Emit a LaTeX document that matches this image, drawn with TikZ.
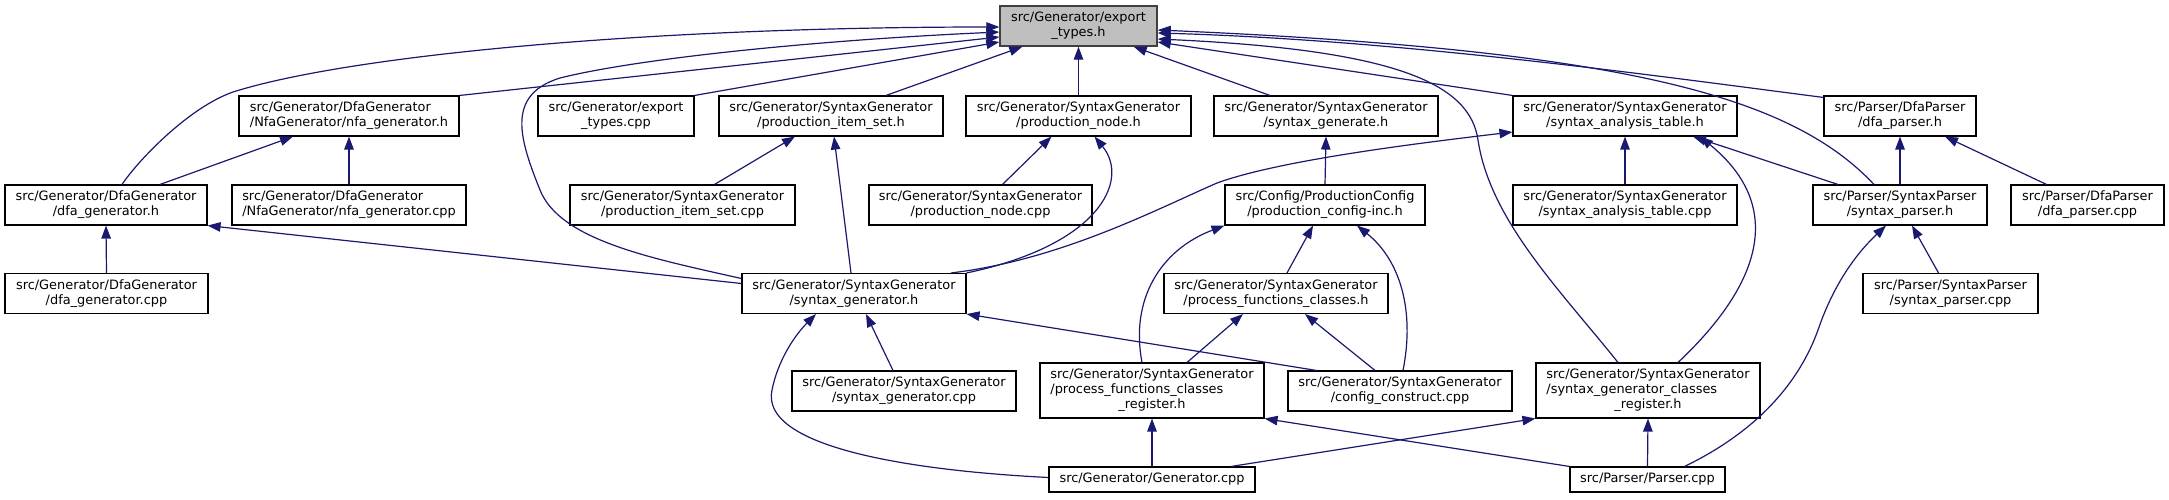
\documentclass[tikz,border=0pt]{standalone}
\usepackage{fontspec}
\setmainfont{DejaVu Sans}
\usepackage{calc}
\usetikzlibrary{arrows.meta,calc}
\definecolor{edgecol}{HTML}{191970}
\definecolor{rootfill}{HTML}{BFBFBF}
\definecolor{rootdraw}{HTML}{404040}
\newcommand{\sgdir}{src/Generator/SyntaxGenerator}
\begin{document}
\begin{tikzpicture}[x=1pt,y=-1pt,
  box/.style={draw=black, line width=1.1pt, fill=white, inner sep=0pt, align=center,
    font=\fontsize{12.9pt}{15pt}\selectfont, minimum height=40pt},
  rootbox/.style={box, fill=rootfill, draw=rootdraw, line width=1.4pt},
  edge/.style={draw=edgecol, line width=1.2pt, -{Triangle[length=13pt,width=9.5pt]}},
]
\useasboundingbox (0,0) rectangle (2169,499);
% row 1
\node[rootbox, minimum width=157pt] (E) at (1078.5,26) {src/Generator/export\\\_types.h};
% row 2
\node[box, minimum width=220pt, align=left] (nfa) at (349,116) {src/Generator/DfaGenerator\\/NfaGenerator/nfa\_generator.h};
\node[box, minimum width=156pt] (etcpp) at (616,116) {src/Generator/export\\\_types.cpp};
\node[box, minimum width=224pt] (pish) at (831,116) {\sgdir\\/production\_item\_set.h};
\node[box, minimum width=225pt] (pnh) at (1078.5,116) {\sgdir\\/production\_node.h};
\node[box, minimum width=224pt] (sgen) at (1326,116) {\sgdir\\/syntax\_generate.h};
\node[box, minimum width=224pt] (sath) at (1625,116) {\sgdir\\/syntax\_analysis\_table.h};
\node[box, minimum width=152pt] (dfaph) at (1900,116) {src/Parser/DfaParser\\/dfa\_parser.h};
% row 3
\node[box, minimum width=202pt] (dfah) at (106,205) {src/Generator/DfaGenerator\\/dfa\_generator.h};
\node[box, minimum width=234pt, align=left] (nfacpp) at (349,205) {src/Generator/DfaGenerator\\/NfaGenerator/nfa\_generator.cpp};
\node[box, minimum width=225pt] (piscpp) at (682.5,205) {\sgdir\\/production\_item\_set.cpp};
\node[box, minimum width=223pt] (pncpp) at (980.5,205) {\sgdir\\/production\_node.cpp};
\node[box, minimum width=200pt] (pci) at (1325,205) {src/Config/ProductionConfig\\/production\_config-inc.h};
\node[box, minimum width=224pt] (satcpp) at (1625,205) {\sgdir\\/syntax\_analysis\_table.cpp};
\node[box, minimum width=174pt] (sph) at (1900,205) {src/Parser/SyntaxParser\\/syntax\_parser.h};
\node[box, minimum width=153pt] (dfapcpp) at (2087.5,205) {src/Parser/DfaParser\\/dfa\_parser.cpp};
% row 4
\node[box, minimum width=203pt] (dfacpp) at (106.5,293.5) {src/Generator/DfaGenerator\\/dfa\_generator.cpp};
\node[box, minimum width=224pt] (sgh) at (854,293.5) {\sgdir\\/syntax\_generator.h};
\node[box, minimum width=224pt] (pfch) at (1276,293.5) {\sgdir\\/process\_functions\_classes.h};
\node[box, minimum width=175pt] (spcpp) at (1950.5,293.5) {src/Parser/SyntaxParser\\/syntax\_parser.cpp};
% row 5
\node[box, minimum width=224pt] (sgcpp) at (904,391) {\sgdir\\/syntax\_generator.cpp};
\node[box, minimum width=224pt, minimum height=55pt] (pfcr) at (1152,390.5) {\sgdir\\\makebox[\widthof{\sgdir}][l]{/process\_functions\_classes}\\\_register.h};
\node[box, minimum width=224pt] (cccpp) at (1400,391) {\sgdir\\/config\_construct.cpp};
\node[box, minimum width=224pt, minimum height=55pt] (sgcr) at (1648,390.5) {\sgdir\\\makebox[\widthof{\sgdir}][l]{/syntax\_generator\_classes}\\\_register.h};
% row 6
\node[box, minimum width=206pt, minimum height=25pt] (gencpp) at (1152,479.5) {src/Generator/Generator.cpp};
\node[box, minimum width=155pt, minimum height=25pt] (parcpp) at (1647.5,479.5) {src/Parser/Parser.cpp};

% edges into export_types.h
\draw[edge] ($(dfah.north)+(16,0)$) .. controls (140,158) and (190,107) .. (233,92)
  .. controls (350,55) and (650,27) .. ($(E.west)+(0,1)$);
\draw[edge] ($(sgh.west)+(0,-15)$) .. controls (650,258) and (560,240) .. (540,190)
  .. controls (520,140) and (505,95) .. (560,78)
  .. controls (640,58) and (820,40) .. ($(E.west)+(0,6)$);
\draw[edge] (nfa.north east) -- ($(E.west)+(0,11)$);
\draw[edge] (etcpp.north east) -- ($(E.west)+(0,16)$);
\draw[edge] ($(pish.north)+(55,0)$) -- ($(E.south west)+(23,0)$);
\draw[edge] (pnh.north) -- (E.south);
\draw[edge] ($(sgen.north)+(-56,0)$) -- ($(E.south east)+(-24,0)$);
\draw[edge] ($(sph.north)+(-26,0)$) .. controls (1790,95) and (1620,50) .. ($(E.east)+(0,4)$);
\draw[edge] ($(dfaph.north west)+(0,2)$) .. controls (1650,75) and (1400,40) .. ($(E.east)+(0,7)$);
\draw[edge] ($(sgcr.north)+(-30,0)$) .. controls (1560,290) and (1490,220) .. (1478,140)
  .. controls (1470,85) and (1400,50) .. ($(E.east)+(0,13)$);
\draw[edge] (sath.north west) -- ($(E.east)+(0,16)$);

% other edges
\draw[edge] ($(dfah.north)+(54,0)$) -- ($(nfa.south)+(-56,0)$);
\draw[edge] (nfacpp.north) -- (nfa.south);
\draw[edge] (dfacpp.north) -- (dfah.south);
\draw[edge] ($(sgh.west)+(0,-10)$) -- (dfah.south east);
\draw[edge] ($(piscpp.north)+(32,0)$) -- ($(pish.south)+(-36,0)$);
\draw[edge] ($(sgh.north)+(-3,0)$) -- ($(pish.south)+(3,0)$);
\draw[edge] ($(pncpp.north)+(22,0)$) -- ($(pnh.south)+(-27,0)$);
\draw[edge] (sgh.north east) .. controls (1100,245) and (1130,180) .. ($(pnh.south)+(16,0)$);
\draw[edge] ($(sgh.north)+(97,0)$) .. controls (1060,260) and (1155,210) .. (1217,183)
  .. controls (1280,160) and (1420,143) .. ($(sath.west)+(0,16)$);
\draw[edge] (pci.north) -- (sgen.south);
\draw[edge] ($(pfcr.north)+(-10,0)$) .. controls (1130,300) and (1160,250) .. (pci.south west);
\draw[edge] ($(pfch.north)+(11,0)$) -- ($(pci.south)+(-12,0)$);
\draw[edge] ($(cccpp.north)+(3,0)$) .. controls (1415,310) and (1400,260) .. ($(pci.south)+(32,0)$);
\draw[edge] ($(pfcr.north)+(35,0)$) -- ($(pfch.south)+(-33,0)$);
\draw[edge] ($(cccpp.north)+(-25,0)$) -- ($(pfch.south)+(29,0)$);
\draw[edge] ($(sgcpp.north)+(-11,0)$) -- ($(sgh.south)+(12,0)$);
\draw[edge] ($(cccpp.north west)+(29,0)$) -- (sgh.south east);
\draw[edge] ($(gencpp.west)+(0,-2)$) .. controls (900,470) and (760,445) .. (772,390)
  .. controls (778,360) and (795,335) .. ($(sgh.south)+(-38,0)$);
\draw[edge] (gencpp.north) -- (pfcr.south);
\draw[edge] ($(gencpp.north)+(79,0)$) -- (sgcr.south west);
\draw[edge] (parcpp.north west) -- (pfcr.south east);
\draw[edge] (parcpp.north) -- (sgcr.south);
\draw[edge] ($(parcpp.north)+(37,0)$) .. controls (1760,430) and (1800,380) .. (1818,330)
  .. controls (1835,280) and (1860,250) .. ($(sph.south)+(-14,0)$);
\draw[edge] ($(spcpp.north)+(-12,0)$) -- ($(sph.south)+(12,0)$);
\draw[edge] (satcpp.north) -- (sath.south);
\draw[edge] ($(sph.north)+(-62,0)$) -- ($(sath.south)+(68,0)$);
\draw[edge] ($(sgcr.north)+(30,0)$) .. controls (1755,290) and (1790,210) .. ($(sath.south)+(75,0)$);
\draw[edge] (sph.north) -- (dfaph.south);
\draw[edge] ($(dfapcpp.north)+(-41,0)$) -- ($(dfaph.south)+(45,0)$);
\end{tikzpicture}
\end{document}
